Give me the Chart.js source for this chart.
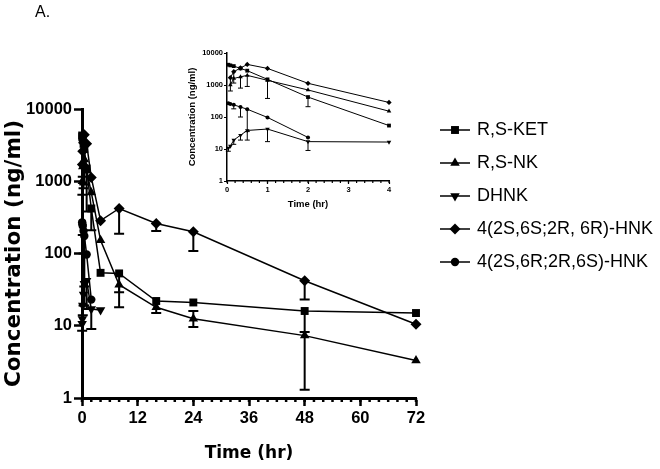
<!DOCTYPE html>
<html>
<head>
<meta charset="utf-8">
<script src="https://cdn.jsdelivr.net/npm/chart.js"></script>
<style>
  html, body { margin: 0; padding: 0; background: #fff; }
  #wrap { position: relative; width: 660px; height: 469px; overflow: hidden; background: #fff; }
  #main { position: absolute; left: 0; top: 0; }
  #inset { position: absolute; left: 180px; top: 35px; }
  #tag { position: absolute; left: 35px; top: 3px; font: 16px "Liberation Sans", Arial, sans-serif; color: #000; }
</style>
</head>
<body>
<div id="wrap">
  <canvas id="main" width="660" height="469"></canvas>
  <canvas id="inset" width="250" height="185"></canvas>
  <div id="tag">A.</div>
</div>
<script>
// sampling times (hr)
const times = [0.033, 0.083, 0.167, 0.333, 0.5, 1, 2, 4, 8, 16, 24, 48, 72];
const seriesNames = ['R,S-KET', 'R,S-NK', 'DHNK', '4(2S,6S;2R, 6R)-HNK', '4(2S,6R;2R,6S)-HNK'];

// mean concentrations (ng/ml), null = no sample
const ketConc  = [4300, 4100, 3900, 3300, 2800, 1500, 420, 54, 53, 22, 21, 16, 15];
const nkConc   = [null, 1000, 1600, 1800, 2000, 1400, 700, 152, 37, 18, 12.5, 7.3, 3.3];
const dhnkConc = [10.7, 12.4, 19, 27, 38, 42, 17, 16.5, null, null, null, null, null];
const hnkSSConc = [null, 1700, 2600, 3400, 4400, 3300, 1130, 285, 420, 260, 200, 42, 10.5];
const hnkSRConc = [270, 255, 240, 205, 175, 97, 23, null, null, null, null, null, null];

// error bar ends (ng/ml)
const ketLow   = [null, null, null, null, null, 380, 210, null, 29, null, null, 8.2, null];
const ketHigh  = [null, null, null, null, null, null, null, null, null, null, null, null, null];
const nkLow    = [null, null, null, 800, 900, null, null, null, 18, 15, 9.6, 1.3, null];
const nkHigh   = [null, null, null, null, null, null, null, null, null, null, 16, null, null];
const dhnkLow  = [8.5, null, 14, 19, 19, 17, 9, null, null, null, null, null, null];
const dhnkHigh = [null, null, null, null, null, null, null, null, null, null, null, null, null];
const hnkSSLow  = [null, 650, 1150, null, null, null, null, null, 188, 205, 108, 23, null];
const hnkSSHigh = [null, null, null, null, null, null, null, null, null, null, null, null, null];
const hnkSRLow  = [null, null, 180, 100, 35, null, null, null, null, null, null, null, null];
const hnkSRHigh = [null, null, null, null, null, null, null, null, null, null, null, null, null];

// axis ticks
const yTickValues = [1, 10, 100, 1000, 10000];
const xTicksMain = [0, 12, 24, 36, 48, 60, 72];
const xTicksInset = [0, 1, 2, 3, 4];

const seriesConc = [ketConc, nkConc, dhnkConc, hnkSSConc, hnkSRConc];
const seriesLow = [ketLow, nkLow, dhnkLow, hnkSSLow, hnkSRLow];
const seriesHigh = [ketHigh, nkHigh, dhnkHigh, hnkSSHigh, hnkSRHigh];
const marks = [
  { style: 'rect', rot: 0, r: 5.6 },
  { style: 'triangle', rot: 0, r: 5.5 },
  { style: 'triangle', rot: 180, r: 5.5 },
  { style: 'rectRot', rot: 0, r: 5.5 },
  { style: 'circle', rot: 0, r: 4.2 }
];

const SANS = '"Liberation Sans", Arial, sans-serif';
const WIDE = '"DejaVu Sans", Verdana, sans-serif';
Chart.defaults.color = '#000';

function buildSets(maxT, big) {
  return seriesNames.map((name, i) => {
    const pts = [];
    seriesConc[i].forEach((v, k) => {
      if (v == null || times[k] > maxT) return;
      pts.push({ x: times[k], y: v, lo: seriesLow[i][k], hi: seriesHigh[i][k] });
    });
    return {
      label: name,
      data: pts,
      showLine: true,
      borderColor: '#000',
      backgroundColor: '#000',
      borderWidth: big ? 1.5 : 1,
      pointStyle: marks[i].style,
      pointRotation: marks[i].rot,
      pointRadius: big ? marks[i].r : marks[i].r * 0.48,
      pointBorderWidth: 0,
      pointHoverRadius: 0,
      clip: false
    };
  });
}

const errorBars = {
  id: 'errorBars',
  beforeDatasetsDraw(chart, args, opts) {
    const ctx = chart.ctx, ys = chart.scales.y;
    ctx.save();
    ctx.strokeStyle = '#000';
    ctx.lineWidth = opts.width;
    chart.data.datasets.forEach((ds, i) => {
      const meta = chart.getDatasetMeta(i);
      meta.data.forEach((pt, k) => {
        const raw = ds.data[k];
        [raw.lo, raw.hi].forEach(e => {
          if (e == null) return;
          const ye = ys.getPixelForValue(e);
          ctx.beginPath();
          ctx.moveTo(pt.x, pt.y);
          ctx.lineTo(pt.x, ye);
          ctx.moveTo(pt.x - opts.cap, ye);
          ctx.lineTo(pt.x + opts.cap, ye);
          ctx.stroke();
        });
      });
    });
    ctx.restore();
  }
};

const minorTicks = {
  id: 'minorTicks',
  afterDraw(chart, args, opts) {
    const xs = chart.scales.x, ctx = chart.ctx;
    ctx.save();
    ctx.fillStyle = '#000';
    for (let v = xs.min; v <= xs.max + 1e-9; v += opts.step) {
      const px = xs.getPixelForValue(v);
      ctx.fillRect(px - opts.w / 2, chart.chartArea.bottom, opts.w, opts.len);
    }
    ctx.restore();
  }
};

const sideLegend = {
  id: 'sideLegend',
  afterDraw(chart, args, opts) {
    if (!opts.show) return;
    const ctx = chart.ctx;
    ctx.save();
    chart.data.datasets.forEach((ds, i) => {
      const y = opts.top + i * opts.gap;
      ctx.strokeStyle = '#000';
      ctx.lineWidth = 1.5;
      ctx.beginPath();
      ctx.moveTo(opts.left, y);
      ctx.lineTo(opts.left + opts.lineLen, y);
      ctx.stroke();
      ctx.fillStyle = '#000';
      Chart.helpers.drawPoint(ctx, {
        pointStyle: ds.pointStyle, rotation: ds.pointRotation || 0,
        radius: ds.pointRadius, borderWidth: 0
      }, opts.left + opts.lineLen / 2, y);
      ctx.font = opts.font;
      ctx.textBaseline = 'middle';
      ctx.textAlign = 'left';
      ctx.fillText(ds.label, opts.left + opts.lineLen + opts.textGap, y);
    });
    ctx.restore();
  }
};

function makeChart(id, cfg) {
  return new Chart(document.getElementById(id), {
    type: 'scatter',
    data: { datasets: buildSets(cfg.maxT, cfg.big) },
    plugins: [errorBars, minorTicks, sideLegend],
    options: {
      responsive: false,
      animation: false,
      events: [],
      layout: { padding: cfg.pad },
      plugins: {
        legend: { display: false },
        tooltip: { enabled: false },
        errorBars: cfg.err,
        minorTicks: cfg.minor,
        sideLegend: cfg.legend
      },
      scales: {
        x: {
          type: 'linear',
          min: 0, max: cfg.maxT,
          afterBuildTicks: s => { s.ticks = cfg.xTicks.map(v => ({ value: v })); },
          afterFit: s => { s.height = cfg.xH; },
          grid: { drawOnChartArea: false, drawTicks: true, tickLength: cfg.tickLen, tickWidth: cfg.tickW, tickColor: '#000' },
          border: { display: true, color: '#000', width: cfg.axisW },
          ticks: { font: cfg.tickFont, padding: cfg.xTickPad, maxRotation: 0, autoSkip: false },
          title: { display: true, text: 'Time (hr)', font: cfg.titleFontX, padding: cfg.xTitlePad }
        },
        y: {
          type: 'logarithmic',
          min: 1, max: 10000,
          afterBuildTicks: s => { s.ticks = yTickValues.map(v => ({ value: v })); },
          afterFit: s => { s.width = cfg.yW; },
          grid: { drawOnChartArea: false, drawTicks: true, tickLength: cfg.tickLen, tickWidth: cfg.tickW, tickColor: '#000' },
          border: { display: true, color: '#000', width: cfg.axisW },
          ticks: { font: cfg.tickFont, padding: cfg.yTickPad, callback: v => String(v) },
          title: { display: true, text: 'Concentration (ng/ml)', font: cfg.titleFontY, padding: cfg.yTitlePad }
        }
      }
    }
  });
}

makeChart('main', {
  maxT: 72, big: true, xTicks: xTicksMain,
  pad: { left: 0, top: 109, right: 244, bottom: 0 },
  xH: 71, yW: 82, tickLen: 8, tickW: 2.5, axisW: 3,
  tickFont: { family: SANS, size: 16.5, weight: 'bold' },
  xTickPad: 3, yTickPad: 2,
  titleFontX: { family: WIDE, size: 17, weight: 'bold' },
  titleFontY: { family: WIDE, size: 21.5, weight: 'bold' },
  xTitlePad: { top: 0, bottom: 5 }, yTitlePad: { top: 2, bottom: 0 },
  err: { width: 2, cap: 5 },
  minor: { step: 2, w: 2.5, len: 4 },
  legend: { show: true, left: 440, top: 130, gap: 33, lineLen: 30, textGap: 7,
            font: '18px "Liberation Sans", Arial, sans-serif' }
});

makeChart('inset', {
  maxT: 4, big: false, xTicks: xTicksInset,
  pad: { left: 0, top: 18, right: 41, bottom: 0 },
  xH: 39, yW: 47, tickLen: 3, tickW: 1.2, axisW: 1.5,
  tickFont: { family: SANS, size: 7.5, weight: 'bold' },
  xTickPad: 1, yTickPad: 1,
  titleFontX: { family: SANS, size: 9.5, weight: 'bold' },
  titleFontY: { family: SANS, size: 9.5, weight: 'bold' },
  xTitlePad: { top: 0, bottom: 10 }, yTitlePad: { top: 7, bottom: 0 },
  err: { width: 1, cap: 2.5 },
  minor: { step: 0.2, w: 1.2, len: 2 },
  legend: { show: false }
});
</script>
</body>
</html>
